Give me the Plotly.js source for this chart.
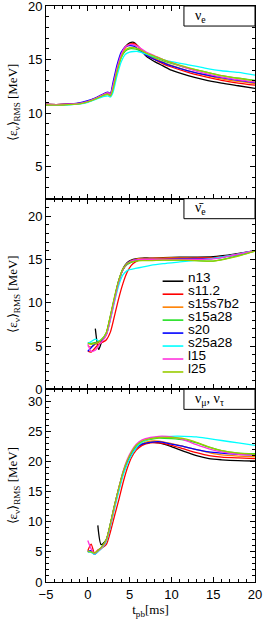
<!DOCTYPE html>
<html>
<head>
<meta charset="utf-8">
<script src="https://cdn.plot.ly/plotly-3.0.1.min.js"></script>
<style>html,body{margin:0;padding:0;background:#fff;}#chart{width:266px;height:619px;}</style>
</head>
<body>
<div id="chart"></div>
<script>
// ---------- data ----------
var names  = ['n13', 's11.2', 's15s7b2', 's15a28', 's20', 's25a28', 'l15', 'l25'];
var colors = ['#000000', '#ff0000', '#ff8000', '#22e022', '#0000ff', '#00ffff', '#ff33dd', '#99cc00'];

// panel 1: nu_e
var t1 = [-5, -3, -1, 0, 1, 2, 2.4, 2.7, 3, 3.5, 4, 4.5, 5, 5.5, 6, 7, 8, 9, 10, 12, 14, 16, 18, 20];
var nue_n13     = [10.8, 10.8, 10.9, 11.1, 11.4, 11.8, 11.9, 11.75, 12.5, 14.2, 15.5, 16.2, 16.55, 16.6, 16.25, 15.3, 14.8, 14.4, 14.0, 13.5, 13.1, 12.8, 12.55, 12.3];
var nue_s112    = [10.8, 10.8, 10.9, 11.1, 11.4, 11.8, 11.9, 11.75, 12.5, 14.2, 15.5, 16.2, 16.45, 16.5, 16.25, 15.4, 15.0, 14.6, 14.3, 13.8, 13.4, 13.05, 12.8, 12.6];
var nue_s15s7b2 = [10.8, 10.8, 10.9, 11.1, 11.4, 11.8, 11.9, 11.75, 12.4, 14.1, 15.4, 16.1, 16.4, 16.4, 16.2, 15.5, 15.1, 14.75, 14.45, 13.95, 13.55, 13.2, 12.95, 12.75];
var nue_s15a28  = [10.75, 10.75, 10.85, 11.05, 11.35, 11.7, 11.75, 11.6, 12.2, 13.9, 15.2, 15.8, 16.0, 16.0, 15.9, 15.5, 15.2, 14.9, 14.65, 14.2, 13.85, 13.5, 13.25, 13.05];
var nue_s20     = [10.8, 10.8, 10.95, 11.15, 11.45, 11.85, 11.95, 11.8, 12.8, 14.5, 15.7, 16.2, 16.3, 16.25, 16.0, 15.4, 15.0, 14.7, 14.4, 13.95, 13.6, 13.3, 13.05, 12.85];
var nue_s25a28  = [10.75, 10.75, 10.85, 11.0, 11.3, 11.55, 11.6, 11.5, 11.9, 13.5, 14.8, 15.5, 15.7, 15.75, 15.75, 15.5, 15.25, 15.0, 14.8, 14.5, 14.2, 13.95, 13.8, 13.55];
var nue_l15     = [10.8, 10.8, 10.9, 11.1, 11.4, 11.8, 11.9, 11.75, 12.5, 14.2, 15.5, 16.2, 16.4, 16.4, 16.2, 15.7, 15.35, 15.0, 14.7, 14.15, 13.7, 13.35, 13.1, 12.9];
var nue_l25     = [10.75, 10.75, 10.85, 11.05, 11.35, 11.7, 11.75, 11.6, 12.2, 13.9, 15.2, 15.9, 16.1, 16.1, 16.0, 15.6, 15.3, 15.0, 14.7, 14.25, 13.85, 13.5, 13.25, 13.0];

// panel 2: anti nu_e
var t2 = [0, 0.4, 0.9, 1.3, 1.7, 2.2, 2.7, 3.2, 3.7, 4.2, 4.7, 5.2, 5.7, 6.5, 7.5, 9, 11, 13, 15, 17.5, 20];
var anue_n13     = [null, null, 7.0, 4.6, 5.6, 6.4, 8.4, 10.5, 12.5, 13.9, 14.6, 14.9, 15.05, 15.15, 15.15, 15.2, 15.25, 15.25, 15.3, 15.6, 16.0];
var anue_s112    = [4.4, 4.3, 4.8, 5.2, 5.4, 5.7, 6.6, 8.5, 10.5, 12.2, 13.5, 14.3, 14.7, 15.0, 15.1, 15.1, 15.15, 15.15, 15.2, 15.5, 15.95];
var anue_s15s7b2 = [5.0, 4.9, 5.2, 5.4, 5.7, 6.3, 8.2, 10.4, 12.4, 13.8, 14.5, 14.85, 15.0, 15.1, 15.1, 15.15, 15.15, 15.1, 15.15, 15.5, 16.0];
var anue_s15a28  = [5.4, 5.3, 5.4, 5.5, 5.8, 6.5, 8.4, 10.6, 12.5, 13.8, 14.4, 14.65, 14.8, 14.9, 14.9, 14.95, 14.9, 14.85, 14.8, 15.3, 15.95];
var anue_s20     = [4.4, 4.8, 5.3, 5.5, 5.7, 6.3, 8.2, 10.4, 12.5, 13.8, 14.5, 14.8, 14.95, 15.0, 15.0, 15.0, 15.05, 15.05, 15.1, 15.5, 16.0];
var anue_s25a28  = [5.3, 5.5, 5.8, 5.6, 5.8, 6.3, 8.0, 10.1, 12.0, 13.2, 13.7, 13.85, 13.95, 14.1, 14.3, 14.5, 14.7, 14.9, 15.1, 15.5, 16.0];
var anue_l15     = [5.2, 4.4, 4.5, 5.1, 5.5, 6.2, 8.1, 10.3, 12.4, 13.8, 14.5, 14.8, 14.95, 15.0, 15.0, 15.0, 15.0, 15.0, 15.05, 15.5, 16.0];
var anue_l25     = [5.3, 5.2, 5.3, 5.5, 5.8, 6.5, 8.5, 10.7, 12.6, 13.9, 14.5, 14.7, 14.8, 14.85, 14.85, 14.9, 14.9, 14.85, 14.8, 15.25, 15.95];

// panel 3: nu_mu, nu_tau
var t3 = [0, 0.4, 0.8, 1.2, 1.6, 2.2, 2.7, 3.2, 3.7, 4.2, 4.7, 5.2, 5.8, 6.5, 7.5, 8.5, 10, 11.5, 13, 14.5, 16, 18, 20];
var numu_n13     = [null, null, null, 9.4, 6.2, 7.0, 9.6, 12.7, 15.5, 18.0, 19.9, 21.2, 22.3, 22.9, 23.2, 23.1, 22.5, 21.7, 21.0, 20.5, 20.3, 20.15, 20.1];
var numu_s112    = [5.2, 6.3, 4.8, 5.3, 5.6, 6.2, 8.3, 11.0, 13.6, 16.4, 18.8, 20.6, 21.9, 22.7, 23.1, 23.1, 22.7, 22.1, 21.5, 21.0, 20.75, 20.6, 20.5];
var numu_s15s7b2 = [5.0, 5.0, 4.7, 5.1, 5.6, 6.8, 9.4, 12.5, 15.3, 17.9, 19.8, 21.2, 22.3, 23.0, 23.4, 23.4, 23.0, 22.5, 22.0, 21.5, 21.1, 20.9, 20.8];
var numu_s15a28  = [5.1, 5.0, 4.8, 5.2, 5.7, 7.0, 9.6, 12.7, 15.5, 18.1, 20.0, 21.4, 22.6, 23.3, 23.7, 23.9, 23.8, 23.6, 23.1, 22.4, 21.8, 21.4, 21.3];
var numu_s20     = [5.0, 5.2, 4.6, 5.1, 5.6, 6.9, 9.5, 12.6, 15.4, 18.0, 19.9, 21.2, 22.3, 22.9, 23.2, 23.3, 22.9, 22.5, 22.0, 21.6, 21.4, 21.2, 21.1];
var numu_s25a28  = [5.0, 4.9, 4.6, 5.0, 5.5, 6.7, 9.2, 12.2, 15.0, 17.6, 19.5, 21.0, 22.3, 23.2, 23.8, 24.1, 24.2, 24.2, 24.1, 23.8, 23.5, 23.1, 22.7];
var numu_l15     = [6.9, 5.5, 4.7, 5.1, 5.6, 6.9, 9.5, 12.7, 15.6, 18.3, 20.3, 21.7, 22.9, 23.6, 24.0, 24.2, 24.1, 23.6, 22.8, 22.1, 21.6, 21.2, 21.1];
var numu_l25     = [5.1, 5.0, 4.8, 5.2, 5.7, 7.0, 9.7, 12.8, 15.6, 18.2, 20.1, 21.5, 22.7, 23.4, 23.8, 24.0, 24.0, 23.8, 23.2, 22.4, 21.8, 21.4, 21.2];

var xTickVals = [-5, 0, 5, 10, 15, 20];
var panelLabels = ['\u03bd<sub>e</sub>', '\u03bd\u0304<sub>e</sub>', '\u03bd<sub>\u03bc</sub>, \u03bd<sub>\u03c4</sub>'];

// ---------- build ----------
var panels = [
  {t: t1, series: [nue_n13, nue_s112, nue_s15s7b2, nue_s15a28, nue_s20, nue_s25a28, nue_l15, nue_l25]},
  {t: t2, series: [anue_n13, anue_s112, anue_s15s7b2, anue_s15a28, anue_s20, anue_s25a28, anue_l15, anue_l25]},
  {t: t3, series: [numu_n13, numu_s112, numu_s15s7b2, numu_s15a28, numu_s20, numu_s25a28, numu_l15, numu_l25]}
];
var axSuffix = ['', '2', '3'];
var traces = [];
panels.forEach(function (p, pi) {
  p.series.forEach(function (ys, si) {
    traces.push({
      x: p.t, y: ys, type: 'scatter', mode: 'lines', name: names[si],
      xaxis: 'x' + axSuffix[pi], yaxis: 'y' + axSuffix[pi],
      line: {color: colors[si], width: 1.3, shape: 'spline', smoothing: 0.7},
      connectgaps: false, showlegend: false, hoverinfo: 'skip'
    });
  });
});

var tickFont = {family: 'Liberation Sans, Arial, sans-serif', size: 13, color: '#000'};
var serif = 'Liberation Serif, Times New Roman, serif';
function xax(anchor, showLabels) {
  return {
    anchor: anchor, domain: [0, 1], range: [-5, 20], tickvals: xTickVals,
    showticklabels: showLabels, ticks: 'inside', ticklen: 5, tickwidth: 1, tickcolor: '#000',
    minor: {dtick: 1, ticks: 'inside', ticklen: 3, tickwidth: 1, tickcolor: '#000'},
    showline: true, linecolor: '#000', linewidth: 1, mirror: 'allticks',
    showgrid: false, zeroline: false, tickfont: tickFont, fixedrange: true,
    ticklabeloverflow: 'allow'
  };
}
function yax(anchor, dom, range, tv) {
  return {
    anchor: anchor, domain: dom, range: range, tickvals: tv,
    ticks: 'inside', ticklen: 5, tickwidth: 1, tickcolor: '#000',
    minor: {dtick: 1, ticks: 'inside', ticklen: 3, tickwidth: 1, tickcolor: '#000'},
    showline: true, linecolor: '#000', linewidth: 1, mirror: 'allticks',
    showgrid: false, zeroline: false, tickfont: tickFont, fixedrange: true,
    ticklabeloverflow: 'allow',
    title: {text: '\u27e8\u03b5<sub>\u03bd</sub>\u27e9<sub>RMS</sub> [MeV]', font: {family: serif, size: 13, color: '#000'}, standoff: 7}
  };
}

var layout = {
  width: 266, height: 619,
  margin: {l: 46, r: 11, t: 6, b: 37},
  paper_bgcolor: '#fff', plot_bgcolor: '#fff',
  showlegend: false,
  xaxis: xax('y', false),
  xaxis2: xax('y2', false),
  xaxis3: Object.assign(xax('y3', true), {title: {text: 't<sub>pb</sub>[ms]', font: {family: serif, size: 13, color: '#000'}, standoff: 4}}),
  yaxis: yax('x', [0.6655, 1], [2, 20], [5, 10, 15, 20]),
  yaxis2: yax('x2', [0.3345, 0.6655], [0, 22], [0, 5, 10, 15, 20]),
  yaxis3: yax('x3', [0, 0.3345], [0, 32], [0, 5, 10, 15, 20, 25, 30]),
  annotations: [], shapes: []
};

// panel label boxes: x in axis units, y in axis-domain units
var boxLeft = 11.5, boxH = [0.104, 0.105, 0.104];
panelLabels.forEach(function (lab, i) {
  var xr = 'x' + axSuffix[i], yr = 'y' + axSuffix[i] + ' domain';
  layout.shapes.push({
    type: 'rect', xref: xr, yref: yr, x0: boxLeft, x1: 20, y0: 1 - boxH[i], y1: 1,
    line: {color: '#000', width: 1}, fillcolor: '#fff', layer: 'above'
  });
  layout.annotations.push({
    xref: xr, yref: yr, x: boxLeft + 1.1, y: 1 - boxH[i] / 2, xanchor: 'left', yanchor: 'middle',
    showarrow: false, text: lab, font: {family: serif, size: 14, color: '#000'}
  });
});

// legend in panel 2
var legTop = 0.567, legStep = 0.068;
names.forEach(function (n, i) {
  var yy = legTop - i * legStep;
  layout.shapes.push({
    type: 'line', xref: 'x2 domain', yref: 'y2 domain',
    x0: 0.558, x1: 0.657, y0: yy, y1: yy,
    line: {color: colors[i], width: 1.6}
  });
  layout.annotations.push({
    xref: 'x2 domain', yref: 'y2 domain', x: 0.67, y: yy + 0.02,
    xanchor: 'left', yanchor: 'middle', showarrow: false,
    text: n, font: {family: 'Liberation Sans, Arial, sans-serif', size: 13.5, color: '#000'}
  });
});

Plotly.newPlot('chart', traces, layout, {displayModeBar: false, staticPlot: true});
</script>
</body>
</html>
